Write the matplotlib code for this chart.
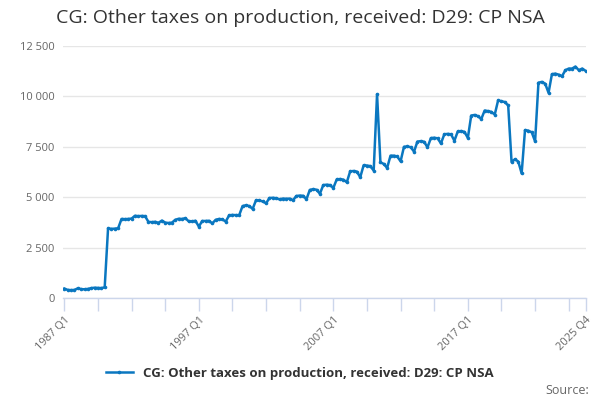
import matplotlib
matplotlib.use("Agg")
import matplotlib.pyplot as plt
from matplotlib.ticker import FuncFormatter

title = "CG: Other taxes on production, received: D29: CP NSA"
series_name = "CG: Other taxes on production, received: D29: CP NSA"

years = list(range(1987, 2026))
quarters = ["Q1", "Q2", "Q3", "Q4"]
categories = [f"{y} {q}" for y in years for q in quarters]

values = [
    470, 400, 390, 400, 480, 440, 430, 450, 490, 510, 500, 490, 530,
    3450, 3430, 3440, 3460,
    3920, 3910, 3920, 3940,
    4080, 4060, 4070, 4060,
    3780, 3760, 3780, 3730,
    3840, 3740, 3720, 3740,
    3880, 3930, 3920, 3960,
    3800, 3800, 3830, 3540,
    3820, 3820, 3830, 3700,
    3880, 3920, 3900, 3790,
    4100, 4120, 4110, 4110,
    4560, 4600, 4560, 4420,
    4850, 4840, 4790, 4700,
    4960, 4970, 4950, 4890,
    4930, 4920, 4930, 4850,
    5060, 5080, 5070, 4900,
    5360, 5400, 5370, 5170,
    5600, 5620, 5600, 5460,
    5880, 5900, 5870, 5740,
    6280, 6300, 6270, 5990,
    6580, 6570, 6540, 6320,
    10100, 6730, 6650, 6450,
    7060, 7060, 7020, 6780,
    7500, 7520, 7480, 7260,
    7760, 7780, 7750, 7470,
    7930, 7950, 7920, 7670,
    8120, 8140, 8120, 7800,
    8260, 8280, 8240, 7940,
    9050, 9080, 9020, 8880,
    9300, 9270, 9230, 9100,
    9800, 9760, 9720, 9550,
    6750, 6880, 6770, 6180,
    8330, 8300, 8220, 7770,
    10680, 10720, 10630, 10180,
    11100, 11130, 11080, 11000,
    11300, 11380, 11380, 11480,
    11300, 11380, 11270,
]

y_ticks = [0, 2500, 5000, 7500, 10000, 12500]
x_tick_step = 10
x_label_cats = ["1987 Q1", "1997 Q1", "2007 Q1", "2017 Q1", "2025 Q4"]

plt.rcParams['font.family'] = ['Open Sans', 'DejaVu Sans']

fig = plt.figure(figsize=(6, 4), dpi=100)
ax = fig.add_axes([0.105, 0.255, 0.872, 0.63])

xs = list(range(len(values)))
color = "#0a77c0"
line, = ax.plot(xs, values, color=color, lw=1.8, marker="o", markersize=2.6,
                markeredgewidth=0, label=series_name, zorder=3)

ax.set_ylim(0, 12500)
ax.set_xlim(-0.4, len(values) - 0.8)
ax.set_yticks(y_ticks)
ax.yaxis.set_major_formatter(FuncFormatter(lambda v, p: f"{int(v):,}".replace(",", " ")))
ax.grid(axis="y", color="#e6e6e6", lw=1)
ax.set_axisbelow(True)

major_pos = [categories.index(c) for c in x_label_cats]
ax.set_xticks(major_pos)
ax.set_xticklabels(x_label_cats, rotation=45, ha="right", rotation_mode="anchor")
minor_pos = [i for i in range(0, len(values), x_tick_step) if i not in major_pos]
ax.set_xticks(minor_pos, minor=True)
ax.tick_params(axis="x", which="both", length=9, color="#ccd6eb", width=1,
               labelsize=8, labelcolor="#666666", pad=3)
ax.tick_params(axis="y", length=0, labelsize=8, labelcolor="#666666", pad=6)

for s in ["top", "right", "left"]:
    ax.spines[s].set_visible(False)
ax.spines["bottom"].set_color("#ccd6eb")
ax.spines["bottom"].set_linewidth(1)

fig.text(0.5, 0.955, title, ha="center", va="center", fontsize=14, color="#333333")

leg = fig.legend(handles=[line], loc="center", bbox_to_anchor=(0.5, 0.067),
                 frameon=False, handlelength=2.0, prop={"size": 9.5, "weight": "bold"})
for t in leg.get_texts():
    t.set_color("#333333")

fig.text(0.982, 0.025, "Source:", ha="right", va="center", fontsize=9, color="#666666")

fig.savefig("out.png", dpi=100)
